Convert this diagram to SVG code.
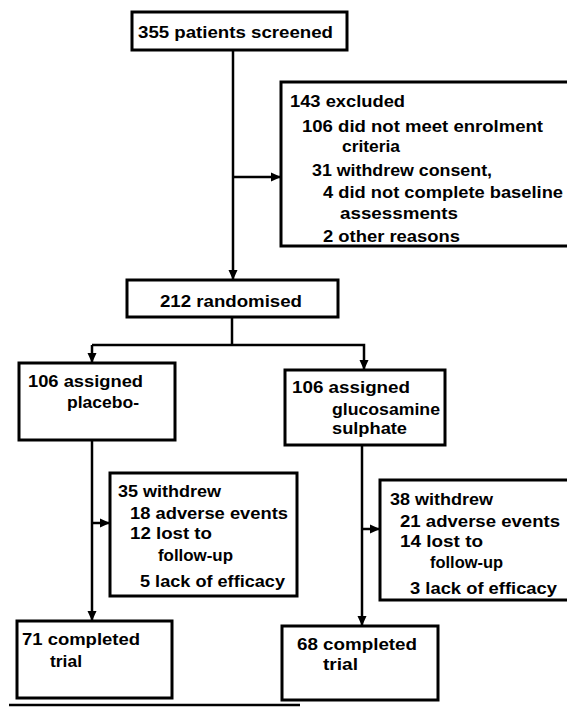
<svg xmlns="http://www.w3.org/2000/svg" width="567" height="710" viewBox="0 0 567 710">
<style>
.box{fill:#fff;stroke:#000;stroke-width:3}
.ln{fill:none;stroke:#000;stroke-width:2.5}
text{font-family:"Liberation Sans",Arial,sans-serif;font-size:16px;font-weight:bold;fill:#000}
</style>
<defs>
<marker id="ah" markerWidth="10" markerHeight="10" refX="9" refY="5" orient="auto" markerUnits="userSpaceOnUse">
<path d="M0,0.5 L10,5 L0,9.5 Z" fill="#000"/>
</marker>
</defs>
<rect width="567" height="710" fill="#fff"/>
<g id="connectors">
<line class="ln" x1="233" y1="50" x2="233" y2="279" marker-end="url(#ah)"/>
<line class="ln" x1="233" y1="177" x2="280" y2="177" marker-end="url(#ah)"/>
<line class="ln" x1="232" y1="317" x2="232" y2="345"/>
<polyline class="ln" points="92,345 364,345 364,369" marker-end="url(#ah)"/>
<line class="ln" x1="92" y1="345" x2="92" y2="362" marker-end="url(#ah)"/>
<line class="ln" x1="92" y1="440" x2="92" y2="620" marker-end="url(#ah)"/>
<line class="ln" x1="92" y1="523" x2="109" y2="523" marker-end="url(#ah)"/>
<line class="ln" x1="362" y1="445" x2="362" y2="625" marker-end="url(#ah)"/>
<line class="ln" x1="362" y1="529" x2="379" y2="529" marker-end="url(#ah)"/>
<line class="ln" x1="9" y1="705" x2="300" y2="705"/>
</g>
<g id="screened">
<rect class="box" x="132" y="12" width="215" height="38"/>
<text x="138" y="37.5" textLength="195" lengthAdjust="spacingAndGlyphs">355 patients screened</text>
</g>
<g id="excluded">
<rect class="box" x="281" y="82" width="292" height="164"/>
<text x="290" y="106.5" textLength="115" lengthAdjust="spacingAndGlyphs">143 excluded</text>
<text x="302" y="131.5" textLength="241" lengthAdjust="spacingAndGlyphs">106 did not meet enrolment</text>
<text x="342" y="152" textLength="58" lengthAdjust="spacingAndGlyphs">criteria</text>
<text x="312" y="175.5" textLength="180" lengthAdjust="spacingAndGlyphs">31 withdrew consent,</text>
<text x="323" y="198" textLength="240" lengthAdjust="spacingAndGlyphs">4 did not complete baseline</text>
<text x="340" y="218.5" textLength="118" lengthAdjust="spacingAndGlyphs">assessments</text>
<text x="323" y="241.5" textLength="137" lengthAdjust="spacingAndGlyphs">2 other reasons</text>
</g>
<g id="randomised">
<rect class="box" x="127" y="280" width="211" height="37"/>
<text x="160" y="306.5" textLength="142" lengthAdjust="spacingAndGlyphs">212 randomised</text>
</g>
<g id="placebo">
<rect class="box" x="19" y="363" width="156" height="77"/>
<text x="28" y="386.5" textLength="115" lengthAdjust="spacingAndGlyphs">106 assigned</text>
<text x="67" y="408" textLength="72" lengthAdjust="spacingAndGlyphs">placebo-</text>
</g>
<g id="glucosamine">
<rect class="box" x="285" y="370" width="160" height="75"/>
<text x="292" y="393" textLength="118" lengthAdjust="spacingAndGlyphs">106 assigned</text>
<text x="332" y="414.5" textLength="108" lengthAdjust="spacingAndGlyphs">glucosamine</text>
<text x="332" y="434" textLength="75" lengthAdjust="spacingAndGlyphs">sulphate</text>
</g>
<g id="withdrew-placebo">
<rect class="box" x="110" y="473" width="187" height="123"/>
<text x="118" y="496.5" textLength="103" lengthAdjust="spacingAndGlyphs">35 withdrew</text>
<text x="130" y="518.5" textLength="158" lengthAdjust="spacingAndGlyphs">18 adverse events</text>
<text x="130" y="539" textLength="82" lengthAdjust="spacingAndGlyphs">12 lost to</text>
<text x="158" y="560.5" textLength="75" lengthAdjust="spacingAndGlyphs">follow-up</text>
<text x="140" y="586.5" textLength="145" lengthAdjust="spacingAndGlyphs">5 lack of efficacy</text>
</g>
<g id="withdrew-glucosamine">
<rect class="box" x="380" y="480" width="192" height="120"/>
<text x="390" y="505" textLength="103" lengthAdjust="spacingAndGlyphs">38 withdrew</text>
<text x="400" y="526.5" textLength="160" lengthAdjust="spacingAndGlyphs">21 adverse events</text>
<text x="400" y="546.5" textLength="83" lengthAdjust="spacingAndGlyphs">14 lost to</text>
<text x="430" y="568" textLength="73" lengthAdjust="spacingAndGlyphs">follow-up</text>
<text x="410" y="594" textLength="147" lengthAdjust="spacingAndGlyphs">3 lack of efficacy</text>
</g>
<g id="completed-placebo">
<rect class="box" x="17" y="621" width="155" height="77"/>
<text x="22" y="645" textLength="118" lengthAdjust="spacingAndGlyphs">71 completed</text>
<text x="50" y="666.5" textLength="32" lengthAdjust="spacingAndGlyphs">trial</text>
</g>
<g id="completed-glucosamine">
<rect class="box" x="282" y="626" width="156" height="74"/>
<text x="297" y="650" textLength="120" lengthAdjust="spacingAndGlyphs">68 completed</text>
<text x="323" y="670" textLength="35" lengthAdjust="spacingAndGlyphs">trial</text>
</g>
</svg>
